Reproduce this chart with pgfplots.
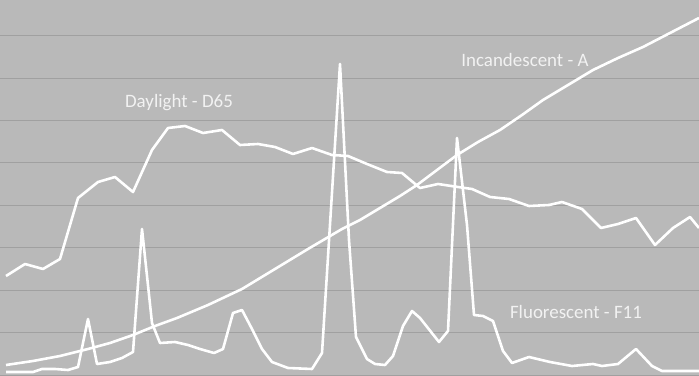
\documentclass[border=0pt]{standalone}
\usepackage{pgfplots}
\pgfplotsset{compat=1.18}
\usepackage{fontspec}
\setmainfont{Carlito}

\definecolor{bg}{RGB}{185,185,185}
\definecolor{gridc}{RGB}{160,160,160}
\definecolor{labelc}{RGB}{242,242,242}

\tikzset{spd/.style={white, line width=2.6pt, line join=round, mark=none}}

\begin{document}
\begin{tikzpicture}
\begin{axis}[
    name=ax,
    width=699bp, height=376bp, scale only axis,
    xmin=0, xmax=699, ymin=0, ymax=376,
    axis line style={draw=none},
    axis background/.style={fill=bg},
    xtick=\empty,
    ytick={1,43.4,85.8,128.2,170.6,213,255.4,297.8,340.2},
    yticklabels={},
    major tick length=0pt,
    ymajorgrids,
    grid style={gridc, line width=1pt},
]
% Daylight - D65
\addplot[spd] coordinates {
(6,100) (25,112) (43,107) (60,117) (78,178) (98,194) (115,199) (133,184)
(152,226) (168,248) (185,250) (203,243) (222,246) (240,231) (258,232)
(275,229) (293,222) (312,228) (332,221) (348,220) (367,212) (387,204)
(402,203) (420,188) (438,192) (458,189) (472,187) (490,179) (509,177)
(529,170) (549,171) (562,174) (582,167) (601,148) (618,152) (636,158)
(655,131) (673,148) (690,159) (699,148)
};
% Incandescent - A
\addplot[spd] coordinates {
(6,11) (33,15) (60,20) (88,27) (110,33) (133,41) (155,50) (177,58)
(208,71) (242,87) (275,107) (308,127) (342,147) (360,156) (380,168)
(400,180) (417,191) (437,206) (457,221) (478,234) (500,246) (522,261)
(543,276) (568,291) (593,306) (618,318) (643,329) (670,343) (699,358)
};
% Fluorescent - F11
\addplot[spd] coordinates {
(6,4) (33,4) (42,7) (55,7) (68,6) (78,9) (88,57) (97,12) (110,14)
(122,18) (133,24) (142,147) (152,53) (160,33) (175,34) (188,31)
(200,27) (214,23) (223,27) (233,63) (242,66) (252,47) (262,27)
(272,14) (288,8) (312,7) (322,23) (340,312) (349,136) (356,39)
(367,17) (375,12) (385,11) (393,20) (403,50) (412,65) (420,58)
(439,34) (448,45) (457,238) (467,151) (474,61) (483,60) (493,55)
(503,25) (512,13) (529,19) (550,14) (572,10) (593,12) (602,10)
(618,12) (636,27) (652,10) (662,5) (699,5)
};
\node[labelc, font=\fontsize{19}{22}\selectfont] at (axis cs:179,273) {Daylight - D65};
\node[labelc, font=\fontsize{19}{22}\selectfont] at (axis cs:525,316) {Incandescent - A};
\node[labelc, font=\fontsize{19}{22}\selectfont] at (axis cs:576,64) {Fluorescent - F11};
\end{axis}
\pgfresetboundingbox
\useasboundingbox (ax.south west) rectangle (ax.north east);
\end{tikzpicture}
\end{document}
